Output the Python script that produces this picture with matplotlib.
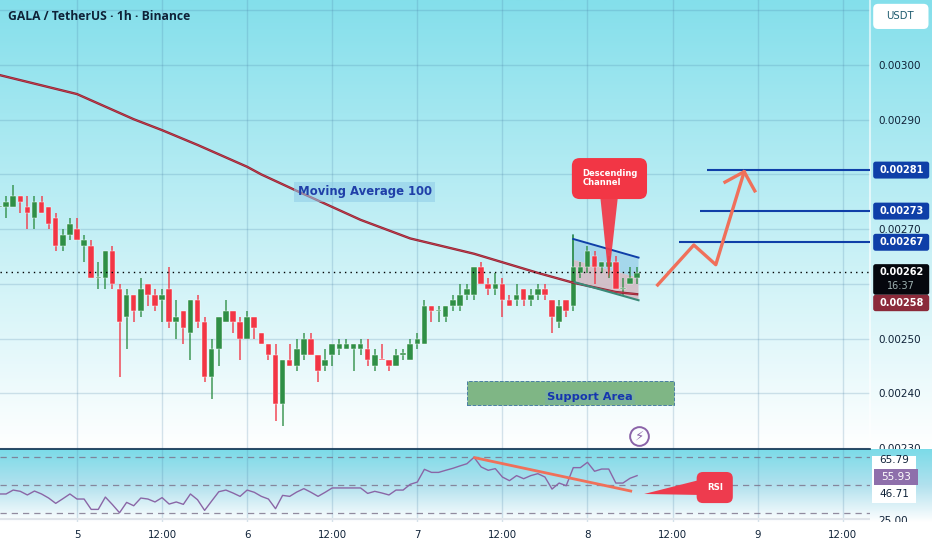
import numpy as np
import matplotlib
matplotlib.use('Agg')
import matplotlib.pyplot as plt
from matplotlib.colors import LinearSegmentedColormap
from matplotlib.patches import FancyBboxPatch, Polygon, Rectangle
from matplotlib.transforms import Bbox, TransformedBbox

# prices are in units of 0.00001, x is hours since day 5 00:00
hours = list(range(-11, 80))
opens = [274, 274, 274, 276, 274, 272, 275, 274, 272, 267,
         269, 270, 267, 267, 261, 261, 266, 259, 254, 258,
         255, 260, 258, 257, 259, 253, 255, 251, 257, 253,
         243, 248, 253, 255, 253, 250, 254, 251, 249, 247,
         238, 246, 245, 247, 250, 247, 245, 247, 248, 248,
         248, 248, 248, 245, 246.2, 246, 245, 247, 246, 249,
         249, 256, 255, 254, 256, 256, 258, 258, 263, 260,
         259, 260, 257, 257, 259, 257, 258, 259, 257, 253,
         257, 256, 262, 263, 265, 263, 263, 264, 259, 260,
         261]
highs = [274, 276, 278, 276, 276, 276, 276, 274, 273, 270,
         272, 272, 269, 268, 264, 266, 267, 260, 259, 258,
         261, 260, 259, 259, 263, 257, 255, 257, 258, 254,
         250, 254, 257, 255, 254, 255, 254, 251, 249, 249,
         246, 249, 250, 251, 251, 247, 248, 249, 250, 250,
         249, 250, 250, 248, 249, 246, 248, 248, 250, 251,
         257, 256, 256, 256, 258, 260, 260, 263, 264, 261,
         262, 261, 258, 260, 259, 259, 260, 260, 257, 257,
         257, 269, 264, 267, 266, 264, 265, 265, 261, 263,
         263]
lows = [274, 272, 274, 273, 270, 270, 273, 270, 266, 266,
        268, 268, 264, 261, 259, 259, 259, 243, 248, 253,
        254, 256, 255, 253, 252, 250, 249, 246, 252, 242,
        239, 245, 253, 251, 246, 250, 250, 249, 246, 235,
        234, 245, 244, 246, 247, 242, 244, 245, 247, 248,
        244, 247, 245, 244, 246, 244, 245, 246, 246, 248,
        249, 253, 253, 253, 255, 255, 257, 257, 260, 258,
        258, 254, 256, 256, 256, 256, 257, 257, 251, 252,
        254, 255, 261, 262, 260, 262, 261, 259, 258, 260,
        260]
closes = [274, 275, 276, 275, 273, 275, 273, 271, 267, 269,
          271, 268, 268, 261, 261, 266, 260, 253, 258, 255,
          259, 258, 256, 258, 253, 254, 252, 257, 253, 243,
          248, 254, 255, 253, 250, 254, 252, 249, 247, 238,
          246, 245, 248, 250, 247, 244, 246, 249, 249, 249,
          249, 249, 246, 247, 246, 245, 247, 247, 249, 250,
          256, 255, 255, 256, 257, 258, 259, 263, 260, 259,
          260, 257, 256, 258, 257, 258, 259, 258, 254, 256,
          255, 263, 263, 266, 263, 264, 264, 259, 259, 261,
          262]

ma_hours = [-11, 0, 8, 12, 17, 24, 26, 31, 40, 47, 56, 65, 70, 76, 79]
ma_values = [298.2, 294.7, 290.1, 288.1, 285.4, 281.4, 280, 277, 271.7, 268.3, 265.5, 262, 260.2, 258.5, 258.1]

rsi_values = [43.6, 43.6, 46.4, 45.5, 42.9, 45.7, 43.6, 40.7, 36.9, 40.2, 43.6, 40, 40, 32.6, 32.6, 41.4, 36, 30.2,
              37.6, 35.2, 40.7, 40, 37.9, 41, 36.4, 37.9, 36.2, 43.6, 39.5, 31.9, 38.6, 45.2, 46.4, 44.3, 41.9, 46.4,
              44.8, 41.9, 40, 33.1, 42.6, 41.9, 45, 47.4, 44.8, 41.9, 44.8, 47.9, 47.9, 47.9, 47.9, 47.9, 44, 45.5,
              44.3, 42.9, 46.4, 46.4, 50.5, 52.1, 61.2, 59, 59, 60.5, 61.9, 63.6, 65.2, 69.8, 62.9, 60.5, 61.7, 55.7,
              53.1, 56.7, 54.5, 56.7, 58.1, 55.7, 47.1, 51.4, 49.5, 62.4, 62.4, 66.2, 59.8, 61.4, 61.4, 51.4, 51.4,
              54.8, 56.7]

time_ticks = [0, 12, 24, 36, 48, 60, 72, 84, 96, 108]
time_labels = ['5', '12:00', '6', '12:00', '7', '12:00', '8', '12:00', '9', '12:00']
price_grid = [230, 240, 250, 260, 270, 280, 290, 300, 310]
price_labels = ['0.00230', '0.00240', '0.00250', '', '0.00270', '', '0.00290', '0.00300', '']
rsi_levels = [30, 50, 70]
targets = [280.8, 273.3, 267.6]
target_labels = ['0.00281', '0.00273', '0.00267']
target_starts = [88.9, 87.9, 84.9]

GREEN = '#2f8f46'
RED = '#f23645'
BLUE = '#0f3fa8'
ORANGE = '#f0705a'
INK = '#0f2238'
GRID = '#4a7fa5'
W, H = 932, 550
XMIN, XMAX = -10.86, 111.85
ASPECT = 7.09 / 5.47

plt.rcParams['font.family'] = 'DejaVu Sans'
fig = plt.figure(figsize=(W / 100, H / 100), dpi=100)

# backgrounds, two gradients going cyan to white
cmap_top = LinearSegmentedColormap.from_list('top', ['#84dfeb', '#ffffff'])
cmap_low = LinearSegmentedColormap.from_list('low', ['#7bdbe8', '#b2e1ee', '#ffffff'])
ramp = np.linspace(0, 1, 256)[:, None]
bg = fig.add_axes([0, 0, 1, 1], zorder=0)
bg.imshow(ramp, cmap=cmap_top, aspect='auto', extent=(0, 1, (H - 449) / H, 1), interpolation='bilinear')
bg.set_xlim(0, 1)
bg.set_ylim(0, 1)
bg.axis('off')

ax = fig.add_axes([0, (H - 449) / H, 870 / W, 449 / H], zorder=1)
ax.patch.set_visible(False)
rsi_bg = fig.add_axes([0, (H - 522) / H, 1, 73 / H], zorder=2)
rsi_bg.imshow(ramp, cmap=cmap_low, aspect='auto', extent=(0, 1, 0, 1), interpolation='bilinear')
rsi_bg.set_xlim(0, 1)
rsi_bg.set_ylim(0, 1)
rsi_bg.axis('off')
ax2 = fig.add_axes([0, (H - 522) / H, 870 / W, 73 / H], zorder=3)
ax2.patch.set_visible(False)

# main pane
ax.set_xlim(XMIN, XMAX)
ax.set_ylim(229.8, 311.9)
ax.set_xticks(time_ticks)
ax.set_yticks(price_grid)
ax.set_yticklabels(price_labels)
ax.yaxis.tick_right()
ax.tick_params(axis='y', length=0, pad=6, labelsize=7.5, labelcolor=INK)
ax.tick_params(axis='x', length=0, labelbottom=False)
ax.grid(True, color=GRID, alpha=0.22, lw=1)
ax.set_axisbelow(True)
for s in ['left', 'top', 'bottom']:
    ax.spines[s].set_visible(False)
ax.spines['right'].set_color('#ffffff')
ax.spines['right'].set_alpha(0.6)
ax.spines['right'].set_linewidth(1.5)

ax.text(8 / 870, 1 - 16 / 449, 'GALA / TetherUS · 1h · Binance', transform=ax.transAxes, family='Open Sans',
        fontsize=8.7, fontweight='bold', color=INK, va='center')

# channel
ax.add_patch(Polygon([(70, 268.2), (79.2, 264.8), (79.2, 261.1), (70, 264.4)], fc='#9fd3ea', ec='none', alpha=0.85, zorder=1.5))
ax.add_patch(Polygon([(70, 264.4), (79.2, 261.1), (79.2, 257), (70, 260.3)], fc='#d3bcc4', ec='none', alpha=0.9, zorder=1.5))

# candles
for h, o, hi, lo, c in zip(hours, opens, highs, lows, closes):
    col = GREEN if c >= o else RED
    ax.vlines(h, lo, hi, color=col, lw=1.1, alpha=0.9, zorder=3)
    top, bot = max(o, c), min(o, c)
    ax.bar(h, max(top - bot, 0.3), bottom=bot, width=0.78, color=col, edgecolor='#ffffff', linewidth=0.3, zorder=4)

ax.plot(ma_hours, ma_values, color='#8e2436', lw=1.7, zorder=5)
ax.plot(ma_hours, ma_values, color='#f0505a', lw=0.5, alpha=0.7, zorder=5)

ax.plot([70, 79.2], [268.2, 264.8], color=BLUE, lw=1.4, zorder=5)
ax.plot([70.2, 79.2], [260.3, 257], color='#3a8a78', lw=1.5, zorder=5)
ax.plot([70, 70], [260.3, 269], color='#4a9a80', lw=1.2, zorder=2)

# current price line and target levels
ax.axhline(262.2, color='#000000', lw=1, ls=(0, (1, 3)), zorder=6)
for p, start in zip(targets, target_starts):
    ax.hlines(p, start, XMAX, color=BLUE, lw=1.5, zorder=5)

ax.plot([81.9, 87, 90.1, 94.1], [259.8, 267.1, 263.5, 280.5], color=ORANGE, lw=2.4, zorder=6)
ax.plot([91.4, 94.1, 95.6], [278.6, 280.5, 277], color=ORANGE, lw=2.4, zorder=6)

# balloon over the channel
ax.add_patch(FancyBboxPatch((69.8, 275.5), 10.6, 7.5, boxstyle='round,pad=0,rounding_size=1.1', mutation_aspect=ASPECT,
                            fc=RED, ec='none', zorder=7))
ax.add_patch(Polygon([(73.8, 276), (76.3, 276), (75, 261)], fc=RED, ec='none', alpha=0.92, zorder=7))
ax.text(71.3, 279.3, 'Descending\nChannel', color='white', fontsize=6, fontweight='bold', va='center', linespacing=1.05, zorder=8)

ax.text(40.6, 276.8, 'Moving Average 100', color='#1f3fa8', fontsize=8.4, fontweight='bold', ha='center', va='center', zorder=8,
        bbox=dict(fc='#8fcbe8', ec='none', alpha=0.55, pad=2.5))

ax.add_patch(Rectangle((55, 237.9), 29.2, 4.3, fc='#7fb685', ec=GRID, ls='--', lw=0.7, zorder=2))
ax.text(72.4, 239.3, 'Support Area', color='#1535b0', fontsize=8.2, fontweight='bold', ha='center', va='center', zorder=3,
        bbox=dict(fc='#78b0a0', ec='none', alpha=0.6, pad=1.5))

ax.plot([79.3], [232.2], 'o', ms=13.5, mfc='none', mec='#8a63a8', mew=1.4, zorder=5)
ax.text(79.3, 232.2, '\u26a1', color='#8a63a8', fontsize=9.5, fontweight='bold', ha='center', va='center', zorder=5)

# price tags in the right hand column
def tag(y0, y1, color):
    ax.add_patch(FancyBboxPatch((112.3, y0), 7.9, y1 - y0, boxstyle='round,pad=0,rounding_size=0.35', mutation_aspect=ASPECT,
                                fc=color, ec='none', clip_on=False, zorder=8))

def tag_text(y, txt, color='white', weight='bold'):
    ax.text(116.25, y, txt, color=color, fontsize=7, fontweight=weight, ha='center', va='center', clip_on=False, zorder=9)

for p, lab in zip(targets, target_labels):
    tag(p - 1.55, p + 1.55, BLUE)
    tag_text(p, lab)
tag(258, 263.6, '#05070d')
tag_text(262.2, '0.00262')
tag_text(259.6, '16:37', color='#9fb3b3', weight='normal')
tag(255, 258, '#8b2a3a')
tag_text(256.5, '0.00258')

ax.add_patch(FancyBboxPatch((112.3, 306.6), 7.8, 4.6, boxstyle='round,pad=0,rounding_size=0.7', mutation_aspect=ASPECT,
                            fc='white', ec='none', clip_on=False, zorder=8))
ax.text(116.1, 308.9, 'USDT', color='#1d5a6e', fontsize=7.3, ha='center', va='center', clip_on=False, zorder=9)

# rsi pane
ax2.set_xlim(XMIN, XMAX)
ax2.set_ylim(23.6, 75.7)
ax2.set_xticks(time_ticks)
ax2.set_xticklabels(time_labels)
ax2.set_yticks([25])
ax2.set_yticklabels(['25.00'])
ax2.yaxis.tick_right()
ax2.tick_params(axis='y', length=0, pad=6, labelsize=7.5, labelcolor=INK)
ax2.tick_params(axis='x', length=0, pad=5.5, labelsize=7.4, labelcolor=INK)
ax2.grid(True, axis='x', color=GRID, alpha=0.22, lw=1)
ax2.set_axisbelow(True)
for s in ['left', 'right', 'bottom']:
    ax2.spines[s].set_visible(False)
ax2.spines['top'].set_color('#10304f')
ax2.spines['top'].set_linewidth(1.2)
clip = TransformedBbox(Bbox([[0, 0], [1, 1]]), rsi_bg.transAxes)
for lab in ax2.get_yticklabels():
    lab.set_clip_on(True)
    lab.set_clip_box(clip)

for lev in rsi_levels:
    ax2.axhline(lev, color='#7a7088', lw=0.9, ls=(0, (5, 4)), alpha=0.8)
ax2.axhline(25.6, color='#dfe4ea', lw=1.5)
ax2.plot(hours, rsi_values, color='#8a66a6', lw=1)
ax2.plot([56.1, 78.1], [69.5, 45.7], color=ORANGE, lw=2, zorder=5)

ax2.add_patch(FancyBboxPatch((87.4, 37.1), 5.1, 22.2, boxstyle='round,pad=0,rounding_size=0.9', mutation_aspect=7.09 / 1.4,
                             fc='#ee3b4e', ec='none', zorder=6))
ax2.add_patch(Polygon([(87.8, 53.6), (87.8, 42.9), (80, 43.6)], fc='#ee3b4e', ec='none', zorder=6))
ax2.text(90, 48, 'RSI', color='white', fontsize=6.2, fontweight='bold', ha='center', va='center', zorder=7)

ax2.add_patch(Rectangle((112.2, 37), 6.2, 33.5, fc='white', ec='none', clip_on=False, zorder=6))
ax2.add_patch(Rectangle((112.4, 50.3), 6.2, 10.8, fc='#8e6fab', ec='none', clip_on=False, zorder=7))
ax2.text(115.3, 67.9, '65.79', color=INK, fontsize=7.5, ha='center', va='center', clip_on=False, zorder=8)
ax2.text(115.5, 55.7, '55.93', color='white', fontsize=7.5, ha='center', va='center', clip_on=False, zorder=8)
ax2.text(115.3, 43.6, '46.71', color=INK, fontsize=7.5, ha='center', va='center', clip_on=False, zorder=8)

fig.savefig('out.png', dpi=100)
